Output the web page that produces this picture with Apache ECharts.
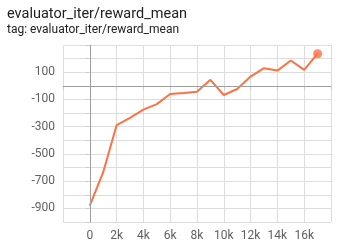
<!DOCTYPE html>
<html>
<head>
<meta charset="utf-8">
<script src="https://cdn.jsdelivr.net/npm/echarts@6/dist/echarts.min.js"></script>
<style>
html,body{margin:0;padding:0;background:#fff;}
#chart{width:351px;height:245px;}
</style>
</head>
<body>
<div id="chart"></div>
<script>
var titleText = 'evaluator_iter/reward_mean';
var subtitleText = 'tag: evaluator_iter/reward_mean';
var steps = [0,1000,2000,3000,4000,5000,6000,7000,8000,9000,10000,11000,12000,13000,14000,15000,16000,17000];
var rewardMean = [-880,-634,-289,-235,-175,-134,-60,-52,-43,44,-67,-23,68,130,112,186,117,236];
var xTickValues = [0,2000,4000,6000,8000,10000,12000,14000,16000];
var xTickLabels = ['0','2k','4k','6k','8k','10k','12k','14k','16k'];
var yTickValues = [100,-100,-300,-500,-700,-900];
var yTickLabels = ['100','-100','-300','-500','-700','-900'];

var data = steps.map(function(s,i){return [s, rewardMean[i]];});
var lastPoint = data[data.length-1];

var chart = echarts.init(document.getElementById('chart'), null, {renderer:'canvas'});
chart.setOption({
  animation:false,
  textStyle:{fontFamily:'Roboto'},
  title:{
    text:titleText,
    subtext:subtitleText,
    left:2, top:2,
    itemGap:2,
    textStyle:{fontFamily:'Roboto',fontSize:14.5,fontWeight:'normal',color:'#212121'},
    subtextStyle:{fontFamily:'Roboto',fontSize:12,color:'#212121'}
  },
  grid:{left:63,right:20,top:45,bottom:23,containLabel:false},
  xAxis:{
    type:'value', min:-2000, max:18000, interval:2000,
    axisLine:{show:true,lineStyle:{color:'#ccc'}},
    axisTick:{show:true,length:4,lineStyle:{color:'#ccc'}},
    splitLine:{show:true,lineStyle:{color:'#dddddd'}},
    axisLabel:{
      margin:8, color:'#5f5f5f', fontSize:12, fontFamily:'Roboto',
      formatter:function(v){var i=xTickValues.indexOf(v);return i>=0?xTickLabels[i]:'';}
    }
  },
  yAxis:{
    type:'value', min:-1000, max:300, interval:100,
    axisLine:{show:true,lineStyle:{color:'#ccc'}},
    axisTick:{show:true,length:4,lineStyle:{color:'#ccc'}},
    splitLine:{show:true,lineStyle:{color:'#dddddd'}},
    axisLabel:{
      margin:8, color:'#5f5f5f', fontSize:12, fontFamily:'Roboto',
      formatter:function(v){var i=yTickValues.indexOf(v);return i>=0?yTickLabels[i]:'';}
    }
  },
  series:[{
    type:'line',
    data:data,
    showSymbol:false,
    symbol:'none',
    lineStyle:{color:'#ff7043',width:2},
    itemStyle:{color:'#ff7043'},
    markLine:{
      silent:true, symbol:'none', label:{show:false},
      lineStyle:{color:'#9e9e9e',type:'solid',width:1},
      data:[{xAxis:0},{yAxis:0}]
    },
    z:3
  },{
    type:'scatter',
    data:[lastPoint],
    symbolSize:9,
    itemStyle:{color:'#ff7043'},
    z:4
  }]
});
</script>
</body>
</html>
